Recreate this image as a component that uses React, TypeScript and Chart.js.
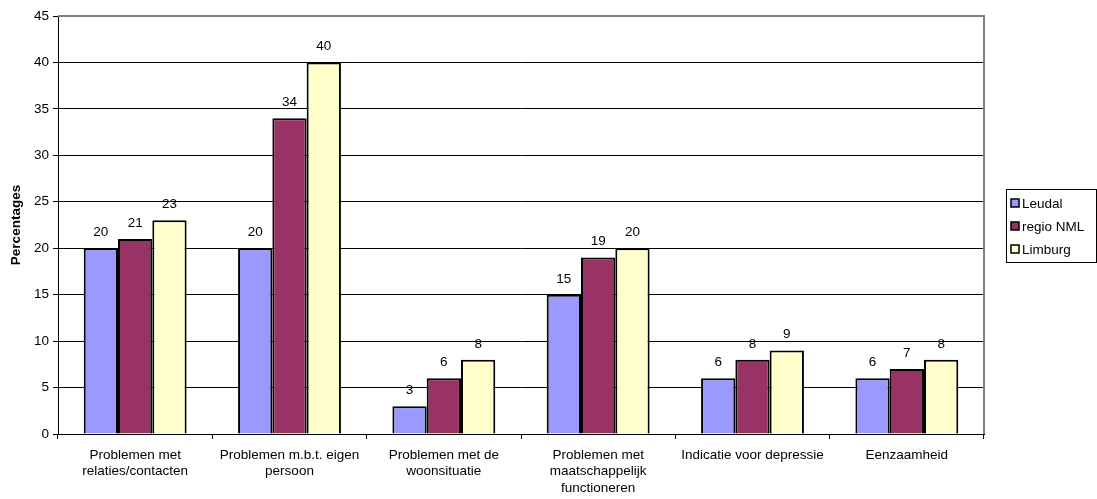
import React, { useEffect, useRef } from "react";
import { Chart, registerables } from "chart.js";

Chart.register(...registerables);

const categories: string[][] = [
  ["Problemen met", "relaties/contacten"],
  ["Problemen m.b.t. eigen", "persoon"],
  ["Problemen met de", "woonsituatie"],
  ["Problemen met", "maatschappelijk", "functioneren"],
  ["Indicatie voor depressie"],
  ["Eenzaamheid"],
];

const seriesNames = ["Leudal", "regio NML", "Limburg"];
const leudal = [20, 20, 3, 15, 6, 6];
const regioNML = [21, 34, 6, 19, 8, 7];
const limburg = [23, 40, 8, 20, 9, 8];
const seriesColors = ["#9999FF", "#993366", "#FFFFCC"];

const yTicksMax = 45;
const yStep = 5;
const FONT = "'Liberation Sans', Arial, sans-serif";
const FONT_SIZE = 13.5;

// Value labels above each bar
const valueLabels = {
  id: "valueLabels",
  afterDatasetsDraw(chart: any) {
    const ctx = chart.ctx;
    ctx.save();
    ctx.font = `${FONT_SIZE}px ${FONT}`;
    ctx.fillStyle = "#000";
    ctx.textAlign = "center";
    ctx.textBaseline = "bottom";
    chart.data.datasets.forEach((ds: any, i: number) => {
      const meta = chart.getDatasetMeta(i);
      meta.data.forEach((bar: any, j: number) => {
        ctx.fillText(String(ds.data[j]), bar.x, bar.y - 9);
      });
    });
    ctx.restore();
  },
};

// Grey top/right frame of the plot area
const plotFrame = {
  id: "plotFrame",
  beforeDatasetsDraw(chart: any) {
    const { ctx, chartArea } = chart;
    ctx.save();
    ctx.strokeStyle = "#808080";
    ctx.lineWidth = 2;
    ctx.beginPath();
    ctx.moveTo(chartArea.left, chartArea.top);
    ctx.lineTo(chartArea.right, chartArea.top);
    ctx.lineTo(chartArea.right, chartArea.bottom);
    ctx.stroke();
    ctx.restore();
  },
};

// Boxed legend on the right
const boxLegend = {
  id: "boxLegend",
  afterDraw(chart: any) {
    const ctx = chart.ctx;
    const left = 1006;
    const top = 189;
    const width = 90;
    const height = 73;
    ctx.save();
    ctx.strokeStyle = "#000";
    ctx.lineWidth = 1;
    ctx.strokeRect(left + 0.5, top + 0.5, width, height);
    ctx.font = `${FONT_SIZE}px ${FONT}`;
    ctx.textBaseline = "middle";
    ctx.textAlign = "left";
    seriesNames.forEach((name, i) => {
      const cy = top + 14 + i * 23;
      ctx.fillStyle = seriesColors[i];
      ctx.fillRect(left + 5, cy - 4, 8, 8);
      ctx.strokeStyle = "#000";
      ctx.lineWidth = 1.5;
      ctx.strokeRect(left + 5, cy - 4, 8, 8);
      ctx.fillStyle = "#000";
      ctx.fillText(name, left + 16, cy + 1);
    });
    ctx.restore();
  },
};

export default function App() {
  const canvasRef = useRef<HTMLCanvasElement | null>(null);

  useEffect(() => {
    if (!canvasRef.current) return;
    const series = [leudal, regioNML, limburg];
    const chart = new Chart(canvasRef.current, {
      type: "bar",
      data: {
        labels: categories,
        datasets: series.map((data, i) => ({
          label: seriesNames[i],
          data,
          backgroundColor: seriesColors[i],
          borderColor: "#000",
          borderWidth: 2,
          barPercentage: 1,
          categoryPercentage: 3 / 4.5,
        })),
      },
      options: {
        animation: false,
        responsive: true,
        maintainAspectRatio: false,
        layout: { padding: { left: 0, top: 16, right: 113, bottom: 0 } },
        plugins: {
          legend: { display: false },
          tooltip: { enabled: false },
        },
        scales: {
          x: {
            afterFit(scale: any) {
              scale.height = 65;
            },
            grid: {
              offset: true,
              drawOnChartArea: false,
              drawTicks: true,
              tickLength: 5,
              color: "#000",
            },
            border: { color: "#000", width: 1 },
            ticks: {
              color: "#000",
              font: { family: FONT, size: FONT_SIZE, lineHeight: 1.22 },
              padding: 8,
              maxRotation: 0,
              autoSkip: false,
            },
          },
          y: {
            min: 0,
            max: yTicksMax,
            afterFit(scale: any) {
              scale.width = 58;
            },
            ticks: {
              stepSize: yStep,
              color: "#000",
              font: { family: FONT, size: FONT_SIZE },
              padding: 4,
            },
            grid: {
              color: "#000",
              lineWidth: 1,
              drawTicks: true,
              tickLength: 5,
            },
            border: { color: "#000", width: 1 },
            title: {
              display: true,
              text: "Percentages",
              color: "#000",
              font: { family: FONT, size: FONT_SIZE, weight: "bold" },
              padding: { top: 8, bottom: 0 },
            },
          },
        },
      },
      plugins: [plotFrame, valueLabels, boxLegend],
    });
    return () => chart.destroy();
  }, []);

  return (
    <div
      style={{
        position: "fixed",
        left: 0,
        top: 0,
        width: 1097,
        height: 499,
        background: "#fff",
      }}
    >
      <canvas ref={canvasRef} />
    </div>
  );
}
